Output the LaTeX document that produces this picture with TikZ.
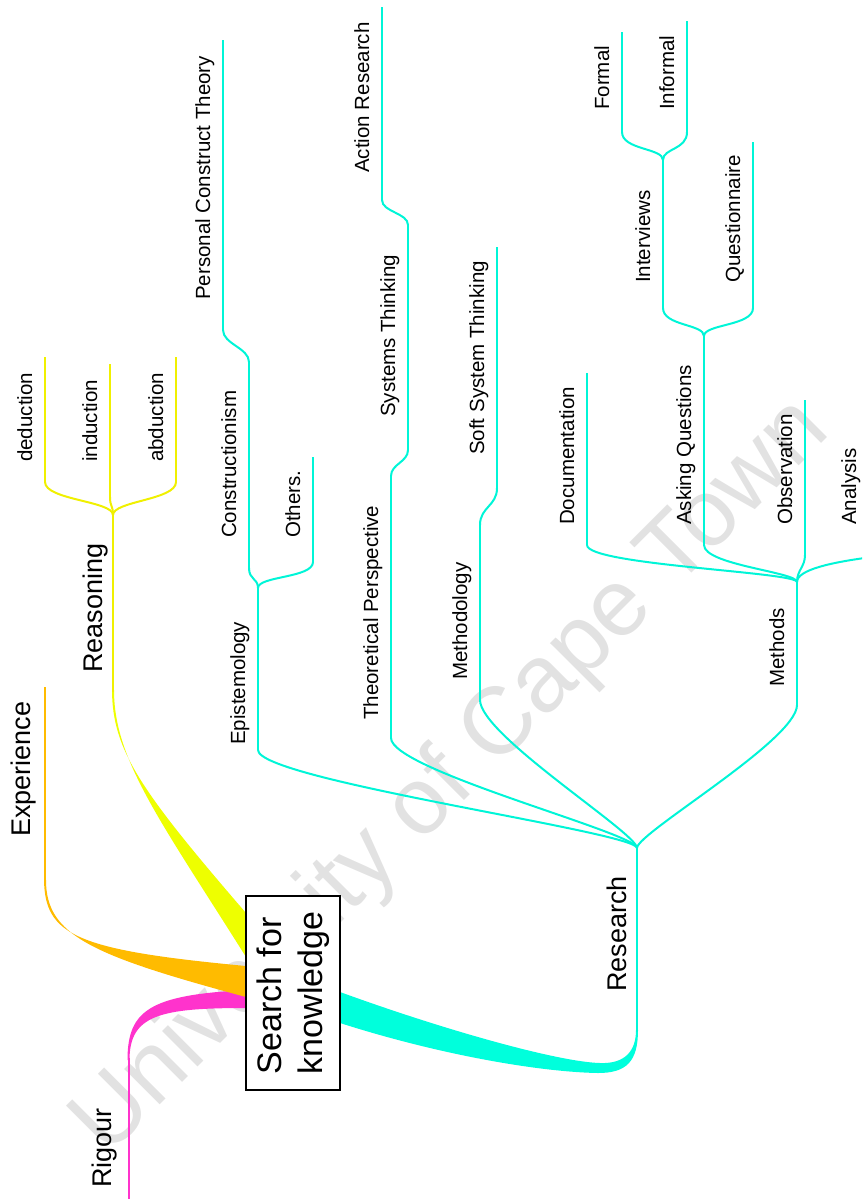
\documentclass[tikz,border=0pt]{standalone}
\usepackage{fontspec}
\setmainfont{Liberation Sans}
\usetikzlibrary{calc}
\definecolor{cyanline}{RGB}{0,245,215}
\definecolor{cyanband}{RGB}{0,255,220}
\definecolor{yellowline}{RGB}{240,240,0}
\definecolor{yellowband}{RGB}{238,255,0}
\definecolor{orangeband}{RGB}{255,187,0}
\definecolor{pinkband}{RGB}{255,51,204}
\definecolor{wmgray}{RGB}{226,226,226}

% connector leaving a fork upwards and arriving at the foot of a topic line
\newcommand{\linkup}[5]{\draw[#1] (#2) .. controls ($(#2)+(0,-#4)$) and ($(#3)+(0,#5)$) .. (#3);}

\begin{document}
\begin{tikzpicture}[x=1pt,y=-1pt,
  small/.style={rotate=90,anchor=base west,inner sep=0pt,font=\fontsize{20.5pt}{24pt}\selectfont},
  large/.style={rotate=90,anchor=base west,inner sep=0pt,font=\fontsize{27pt}{32pt}\selectfont},
  cy/.style={draw=cyanline,line width=2pt},
  ye/.style={draw=yellowline,line width=2pt},
  centre/.style={rotate=90,draw=black,line width=1.5pt,fill=white,align=left,
    minimum width=194pt,minimum height=94pt,inner sep=0pt,
    font=\fontsize{34pt}{41pt}\selectfont}]
\useasboundingbox (0,0) rectangle (862,1199);
\clip (0,0) rectangle (862,1199);

% watermark
\node[rotate=45,text=wmgray,inner sep=0pt,font=\fontsize{95pt}{114pt}\selectfont] (wm) at (452,778) {University of Cape Town};

% ---------- coordinates ----------
% reasoning
\coordinate (rs-fork) at (113,515);
\coordinate (rs-root) at (113,692);
\coordinate (ded-b) at (45,482);  \coordinate (ded-t) at (45,357);
\coordinate (ind-b) at (110,497); \coordinate (ind-t) at (110,364);
\coordinate (abd-b) at (176,482); \coordinate (abd-t) at (176,357);
% experience, rigour
\coordinate (exp-t) at (45,687);  \coordinate (exp-b) at (45,882);
\coordinate (rig-t) at (128.5,1058); \coordinate (rig-b) at (128.5,1205);
% research
\coordinate (rc-fork) at (637,848);
\coordinate (rc-root) at (637,1032);
\coordinate (epi-b) at (258,750); \coordinate (epi-t) at (258,588);
\coordinate (con-b) at (249,568); \coordinate (con-t) at (249,362);
\coordinate (pct-b) at (223,330); \coordinate (pct-t) at (223,40);
\coordinate (oth-b) at (313,562); \coordinate (oth-t) at (313,457);
\coordinate (tp-b) at (391,738);  \coordinate (tp-t) at (391,476);
\coordinate (st-b) at (408,450);  \coordinate (st-t) at (408,225);
\coordinate (ar-b) at (382,200);  \coordinate (ar-t) at (382,7);
\coordinate (mgy-b) at (480,700); \coordinate (mgy-t) at (480,525);
\coordinate (sst-b) at (497,488); \coordinate (sst-t) at (497,247);
\coordinate (mth-b) at (797,705); \coordinate (mth-t) at (797,582);
\coordinate (doc-b) at (587,545); \coordinate (doc-t) at (587,373);
\coordinate (aq-b) at (704,545);  \coordinate (aq-t) at (704,336);
\coordinate (int-b) at (663,308); \coordinate (int-t) at (663,160);
\coordinate (que-b) at (753,308); \coordinate (que-t) at (753,142);
\coordinate (for-b) at (622,132); \coordinate (for-t) at (622,32);
\coordinate (inf-b) at (687,132); \coordinate (inf-t) at (687,21);
\coordinate (obs-b) at (805,555); \coordinate (obs-t) at (805,400);
\coordinate (ana-e) at (880,556);

% ---------- tapered main branches ----------
\fill[pinkband] (127.5,1060) .. controls (127.5,1010) and (150,995) .. (246,990)
  -- (246,1008) .. controls (160,1008) and (129.5,1015) .. (129.5,1060) -- cycle;
\fill[orangeband] (44,880) .. controls (45,935) and (75,950) .. (246,966)
  -- (246,997) .. controls (90,955) and (46,935) .. (46,880) -- cycle;
\fill[yellowband] (112,690) .. controls (112.3,750) and (140,790) .. (246,913)
  -- (246,957) .. controls (160,820) and (114,760) .. (114,690) -- cycle;
\fill[cyanband] (340,992) .. controls (450,1032) and (560,1062) .. (600,1063)
  .. controls (626,1064) and (636,1050) .. (636,1030)
  -- (638,1030) .. controls (638,1062) and (626,1073) .. (598,1073)
  .. controls (540,1072) and (440,1055) .. (340,1023) -- cycle;

% main topic lines
\draw[ye] (rs-fork) -- (rs-root);
\draw[draw=orangeband,line width=2pt] (exp-t) -- (exp-b);
\draw[draw=pinkband,line width=2pt] (rig-t) -- (rig-b);
\draw[cy] (rc-fork) -- (rc-root);

% ---------- reasoning ----------
\linkup{ye}{rs-fork}{ded-b}{14}{18}
\linkup{ye}{rs-fork}{ind-b}{10}{10}
\linkup{ye}{rs-fork}{abd-b}{14}{18}
\draw[ye] (ded-b) -- (ded-t);
\draw[ye] (ind-b) -- (ind-t);
\draw[ye] (abd-b) -- (abd-t);

% ---------- research ----------
\linkup{cy}{rc-fork}{epi-b}{16}{30}
\linkup{cy}{rc-fork}{tp-b}{15}{32}
\linkup{cy}{rc-fork}{mgy-b}{15}{35}
\linkup{cy}{rc-fork}{mth-b}{15}{35}
\draw[cy] (epi-b) -- (epi-t);
\draw[cy] (tp-b) -- (tp-t);
\draw[cy] (mgy-b) -- (mgy-t);
\draw[cy] (mth-b) -- (mth-t);

\linkup{cy}{epi-t}{con-b}{10}{12}
\linkup{cy}{epi-t}{oth-b}{12}{16}
\draw[cy] (con-b) -- (con-t);
\draw[cy] (oth-b) -- (oth-t);
\linkup{cy}{con-t}{pct-b}{14}{14}
\draw[cy] (pct-b) -- (pct-t);

\linkup{cy}{tp-t}{st-b}{12}{12}
\draw[cy] (st-b) -- (st-t);
\linkup{cy}{st-t}{ar-b}{12}{12}
\draw[cy] (ar-b) -- (ar-t);

\linkup{cy}{mgy-t}{sst-b}{18}{18}
\draw[cy] (sst-b) -- (sst-t);

\linkup{cy}{mth-t}{doc-b}{10}{20}
\linkup{cy}{mth-t}{aq-b}{10}{20}
\linkup{cy}{mth-t}{obs-b}{12}{12}
\draw[cy] (mth-t) .. controls ($(mth-t)+(0,-12)$) and (830,562) .. (ana-e);
\draw[cy] (doc-b) -- (doc-t);
\draw[cy] (aq-b) -- (aq-t);
\draw[cy] (obs-b) -- (obs-t);

\linkup{cy}{aq-t}{int-b}{12}{18}
\linkup{cy}{aq-t}{que-b}{12}{18}
\draw[cy] (int-b) -- (int-t);
\draw[cy] (que-b) -- (que-t);
\linkup{cy}{int-t}{for-b}{12}{18}
\linkup{cy}{int-t}{inf-b}{12}{18}
\draw[cy] (for-b) -- (for-t);
\draw[cy] (inf-b) -- (inf-t);

% ---------- central topic ----------
\node[centre] (centre) at (293,993) {Search for\\knowledge};

% ---------- labels ----------
\node[large] (rsn) at (102,673) {Reasoning};
\node[large] (exp) at (30,837) {Experience};
\node[large] (rig) at (111,1188) {Rigour};
\node[large] (res) at (626,992) {Research};

\node[small] (ded) at (32,462) {deduction};
\node[small] (ind) at (97,462) {induction};
\node[small] (abd) at (163,462) {abduction};

\node[small] (epi) at (245,745) {Epistemology};
\node[small] (con) at (236,538) {Constructionism};
\node[small] (pct) at (210,300) {Personal Construct Theory};
\node[small] (oth) at (300,538) {Others.};
\node[small] (tp) at (378,720) {Theoretical Perspective};
\node[small] (st) at (395,417) {Systems Thinking};
\node[small] (ar) at (369,173) {Action Research};
\node[small] (mgy) at (467,680) {Methodology};
\node[small] (sst) at (484,455) {Soft System Thinking};
\node[small] (mth) at (784,687) {Methods};
\node[small] (doc) at (574,525) {Documentation};
\node[small] (aq) at (691,525) {Asking Questions};
\node[small] (obs) at (792,525) {Observation};
\node[small] (ana) at (856,525) {Analysis};
\node[small] (int) at (650,283) {Interviews};
\node[small] (que) at (740,283) {Questionnaire};
\node[small] (for) at (609,110) {Formal};
\node[small] (inf) at (674,110) {Informal};
\end{tikzpicture}
\end{document}
